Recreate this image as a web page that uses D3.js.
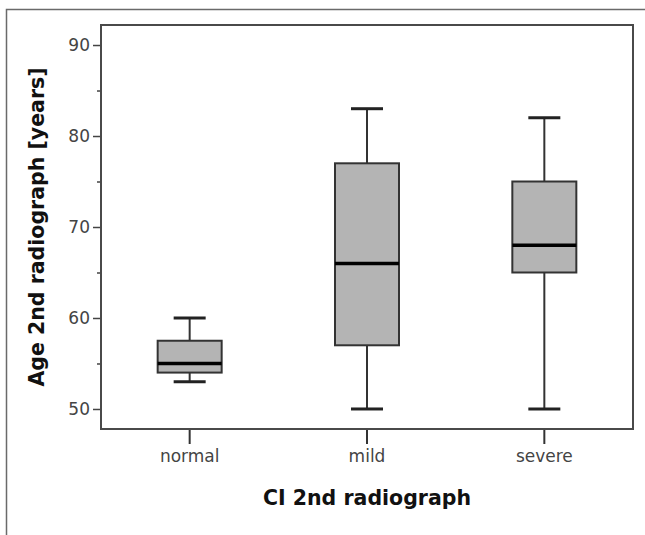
<!DOCTYPE html>
<html>
<head>
<meta charset="utf-8">
<script src="https://cdn.jsdelivr.net/npm/d3@7"></script>
<style>
  html, body { margin: 0; padding: 0; background: #fff; }
  svg { display: block; font-family: 'DejaVu Sans', sans-serif; }
</style>
</head>
<body>
<svg width="645" height="535"></svg>
<script>
// categories and five-number summaries
const categories = ['normal', 'mild', 'severe'];
const whiskerLow = [53, 50, 50];
const q1 = [54, 57, 65];
const medians = [55, 66, 68];
const q3 = [57.5, 77, 75];
const whiskerHigh = [60, 83, 82];
const majorTicks = [50, 60, 70, 80, 90];
const minorTicks = [55, 65, 75, 85];

const data = categories.map((c, i) => ({
  cat: c, lo: whiskerLow[i], q1: q1[i], med: medians[i], q3: q3[i], hi: whiskerHigh[i]
}));

const svg = d3.select('svg');
const margin = { top: 25, right: 12, bottom: 106, left: 101 };
const W = 645, H = 535;
const width = W - margin.left - margin.right;
const height = H - margin.top - margin.bottom;

// outer frame (left + top only)
svg.append('path')
  .attr('d', `M6.5,${H} V9.5 H${W}`)
  .attr('fill', 'none')
  .attr('stroke', '#6a6a6a')
  .attr('stroke-width', 1.5);

const g = svg.append('g').attr('transform', `translate(${margin.left},${margin.top})`);

const x = d3.scaleBand().domain(categories).range([0, width]);
const y = d3.scaleLinear().domain([47.8, 92.2]).range([height, 0]);

// y axis major + minor ticks
const yAxis = g.append('g')
  .call(d3.axisLeft(y).tickValues(majorTicks).tickSize(8).tickPadding(3));
yAxis.select('.domain').remove();
yAxis.selectAll('line').attr('stroke', '#444').attr('stroke-width', 1.5);
yAxis.selectAll('text')
  .attr('fill', '#444')
  .style('font-size', '17px')
  .style('font-family', "'DejaVu Sans', sans-serif");

const yMinor = g.append('g')
  .call(d3.axisLeft(y).tickValues(minorTicks).tickSize(4).tickFormat(''));
yMinor.select('.domain').remove();
yMinor.selectAll('line').attr('stroke', '#444').attr('stroke-width', 1.5);

// x axis
const xAxis = g.append('g')
  .attr('transform', `translate(0,${height})`)
  .call(d3.axisBottom(x).tickSize(15).tickPadding(6));
xAxis.select('.domain').remove();
xAxis.selectAll('line').attr('stroke', '#333').attr('stroke-width', 2);
xAxis.selectAll('text')
  .attr('fill', '#444')
  .style('font-size', '17px')
  .style('font-family', "'DejaVu Sans', sans-serif");

// plot frame
g.append('rect')
  .attr('x', 0).attr('y', 0)
  .attr('width', width).attr('height', height)
  .attr('fill', 'none')
  .attr('stroke', '#4a4a4a')
  .attr('stroke-width', 2);

const boxW = 64, capW = 32;
const boxes = g.selectAll('.box')
  .data(data)
  .enter().append('g')
  .attr('class', 'box')
  .attr('transform', d => `translate(${x(d.cat) + x.bandwidth() / 2},0)`);

// whiskers
boxes.append('line')
  .attr('x1', 0).attr('x2', 0)
  .attr('y1', d => y(d.hi)).attr('y2', d => y(d.q3))
  .attr('stroke', '#333').attr('stroke-width', 2);
boxes.append('line')
  .attr('x1', 0).attr('x2', 0)
  .attr('y1', d => y(d.lo)).attr('y2', d => y(d.q1))
  .attr('stroke', '#333').attr('stroke-width', 2);
boxes.append('line')
  .attr('x1', -capW / 2).attr('x2', capW / 2)
  .attr('y1', d => y(d.hi)).attr('y2', d => y(d.hi))
  .attr('stroke', '#222').attr('stroke-width', 3);
boxes.append('line')
  .attr('x1', -capW / 2).attr('x2', capW / 2)
  .attr('y1', d => y(d.lo)).attr('y2', d => y(d.lo))
  .attr('stroke', '#222').attr('stroke-width', 3);

// box
boxes.append('rect')
  .attr('x', -boxW / 2)
  .attr('y', d => y(d.q3))
  .attr('width', boxW)
  .attr('height', d => y(d.q1) - y(d.q3))
  .attr('fill', '#b4b4b4')
  .attr('stroke', '#333')
  .attr('stroke-width', 2);

// median
boxes.append('line')
  .attr('x1', -boxW / 2).attr('x2', boxW / 2)
  .attr('y1', d => y(d.med)).attr('y2', d => y(d.med))
  .attr('stroke', '#000').attr('stroke-width', 3.5);

// axis titles
svg.append('text')
  .attr('x', margin.left + width / 2)
  .attr('y', 505)
  .attr('text-anchor', 'middle')
  .style('font-size', '20.5px')
  .style('font-weight', 'bold')
  .attr('fill', '#111')
  .text('CI 2nd radiograph');

svg.append('text')
  .attr('transform', `translate(44,${margin.top + height / 2}) rotate(-90)`)
  .attr('text-anchor', 'middle')
  .style('font-size', '20.5px')
  .style('font-weight', 'bold')
  .attr('fill', '#111')
  .text('Age 2nd radiograph [years]');
</script>
</body>
</html>
